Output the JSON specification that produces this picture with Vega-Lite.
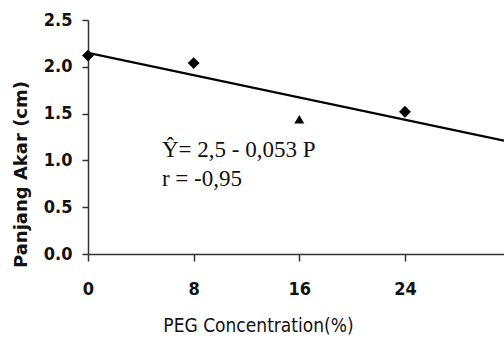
{
  "$schema": "https://vega.github.io/schema/vega-lite/v6.json",
  "width": 416,
  "height": 234,
  "autosize": {"type": "none"},
  "padding": {"left": 88, "top": 20, "right": 0, "bottom": 88},
  "background": "white",
  "config": {"view": {"stroke": null}},
  "datasets": {
    "obs": [
      {"peg": 0, "akar": 2.12},
      {"peg": 8, "akar": 2.04},
      {"peg": 16, "akar": 1.44},
      {"peg": 24, "akar": 1.52}
    ],
    "fit": [
      {"peg": 0, "akar": 2.15},
      {"peg": 31.5, "akar": 1.21}
    ],
    "notes": [
      {"peg": 5.6, "akar": 1.11, "label": "Ŷ= 2,5 - 0,053 P"},
      {"peg": 5.6, "akar": 0.8, "label": "r = -0,95"}
    ]
  },
  "encoding": {
    "x": {
      "field": "peg", "type": "quantitative",
      "scale": {"domain": [0, 31.5], "nice": false, "zero": false},
      "axis": {
        "values": [0, 8, 16, 24], "grid": false, "title": "PEG Concentration(%)",
        "domainColor": "#333", "domainWidth": 1.5, "tickColor": "#333", "tickWidth": 1.5, "tickSize": 7,
        "labelFont": "DejaVu Sans Condensed", "labelFontWeight": "bold", "labelFontSize": 18, "labelColor": "#111",
        "labelPadding": 19, "labelFlush": false,
        "titleFont": "DejaVu Sans Condensed", "titleFontWeight": "normal", "titleFontSize": 19, "titleColor": "#111",
        "titleX": 170, "titleY": 71, "titleBaseline": "middle", "titleAnchor": null
      }
    },
    "y": {
      "field": "akar", "type": "quantitative",
      "scale": {"domain": [0, 2.5], "nice": false},
      "axis": {
        "values": [0, 0.5, 1, 1.5, 2, 2.5], "format": ".1f", "grid": false, "title": "Panjang Akar (cm)",
        "domainColor": "#333", "domainWidth": 1.5, "tickColor": "#333", "tickWidth": 1.5, "tickSize": 6,
        "labelFont": "DejaVu Sans Condensed", "labelFontWeight": "bold", "labelFontSize": 18, "labelColor": "#111",
        "labelPadding": 10, "labelFlush": false,
        "titleFont": "DejaVu Sans", "titleFontWeight": "bold", "titleFontSize": 18, "titleColor": "#111",
        "titleX": -67, "titleY": 154, "titleAngle": -90, "titleBaseline": "middle", "titleAlign": "center"
      }
    }
  },
  "layer": [
    {
      "data": {"name": "fit"},
      "mark": {"type": "line", "color": "black", "strokeWidth": 2.2, "clip": true}
    },
    {
      "data": {"name": "obs"},
      "transform": [{"filter": "datum.peg != 16"}],
      "mark": {"type": "point", "shape": "diamond", "filled": true, "color": "black", "size": 140, "opacity": 1}
    },
    {
      "data": {"name": "obs"},
      "transform": [{"filter": "datum.peg == 16"}],
      "mark": {"type": "point", "shape": "triangle-up", "filled": true, "color": "black", "size": 100, "opacity": 1}
    },
    {
      "data": {"name": "notes"},
      "mark": {"type": "text", "align": "left", "baseline": "middle", "font": "Liberation Serif", "fontSize": 23, "color": "#111"},
      "encoding": {"text": {"field": "label"}}
    }
  ]
}
